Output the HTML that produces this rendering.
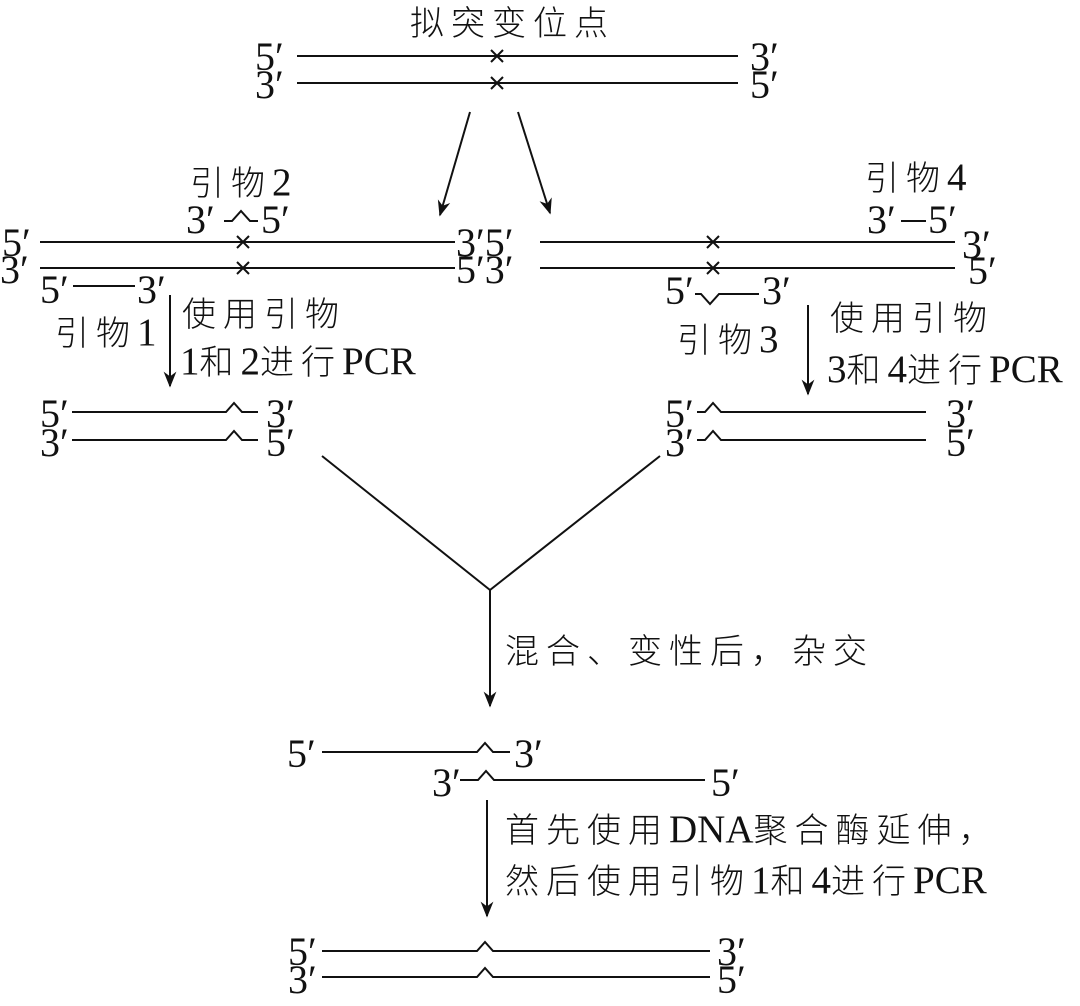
<!DOCTYPE html>
<html><head><meta charset="utf-8"><style>
body{margin:0;background:#fff}
svg{display:block}
text{font-family:"Liberation Serif","Noto Serif CJK SC",serif;font-size:40px;fill:#111}
.c{font-family:"Liberation Serif","Noto Sans CJK SC",sans-serif;font-size:34px;font-weight:300;letter-spacing:7px}
.c tspan.n{font-family:"Liberation Serif",serif;font-size:39px;letter-spacing:0}
</style></head><body>
<svg width="1080" height="1006" viewBox="0 0 1080 1006" xmlns="http://www.w3.org/2000/svg">
<defs><marker id="b" viewBox="0 0 10 10" refX="9" refY="5" markerWidth="16" markerHeight="16" orient="auto" markerUnits="userSpaceOnUse"><path d="M0,1 L10,5 L0,9 L3,5 z" fill="#111"/></marker></defs>
<g stroke="#111" stroke-width="2" fill="none">
<line x1="297" y1="56" x2="738" y2="56"/><line x1="297" y1="83" x2="738" y2="83"/>
<path d="M491,50l12,12M503,50l-12,12M491,77l12,12M503,77l-12,12"/>
<line x1="470" y1="112" x2="440" y2="215" marker-end="url(#b)"/>
<line x1="518" y1="112" x2="550" y2="213" marker-end="url(#b)"/>
<line x1="40" y1="242" x2="455" y2="242"/><line x1="40" y1="268" x2="455" y2="268"/>
<path d="M237,236l12,12M249,236l-12,12M237,262l12,12M249,262l-12,12"/>
<path d="M224,221h8l9,-10l9,10h8"/>
<line x1="73" y1="286" x2="135" y2="286"/>
<line x1="170" y1="295" x2="170" y2="386" marker-end="url(#b)"/>
<path d="M72,412h154l8,-9l8,9h16M72,440h154l8,-9l8,9h16"/>
<line x1="540" y1="242" x2="955" y2="242"/><line x1="540" y1="268" x2="955" y2="268"/>
<path d="M707,236l12,12M719,236l-12,12M707,262l12,12M719,262l-12,12"/>
<path d="M695,294h6l9,10l9,-10h40"/>
<line x1="901" y1="221" x2="926" y2="221"/>
<line x1="808" y1="305" x2="808" y2="394" marker-end="url(#b)"/>
<path d="M697,412h8l8,-9l8,9h205M697,440h8l8,-9l8,9h205"/>
<path d="M322,456L490,590L660,456"/>
<line x1="490" y1="590" x2="490" y2="706" marker-end="url(#b)"/>
<path d="M322,752h155l8,-9l8,9h17"/>
<path d="M460,780h18l8,-9l8,9h211"/>
<line x1="487" y1="800" x2="487" y2="916" marker-end="url(#b)"/>
<path d="M322,951h155l8,-9l8,9h217M322,977h155l8,-9l8,9h217"/>
</g>
<text class="c" x="410" y="35">拟突变位点</text>
<text x="255" y="70">5′</text><text x="255" y="98">3′</text>
<text x="750" y="70">3′</text><text x="750" y="98">5′</text>
<text class="c" x="190" y="195">引物<tspan class="n">2</tspan></text>
<text x="186" y="233">3′</text><text x="261" y="233">5′</text>
<text x="2" y="256">5′</text><text x="0" y="283">3′</text>
<text x="456" y="256">3′5′</text><text x="456" y="283">5′3′</text>
<text x="40" y="303">5′</text><text x="137" y="303">3′</text>
<text class="c" x="55" y="345">引物<tspan class="n">1</tspan></text>
<text class="c" x="182" y="326">使用引物</text>
<text class="c" x="180" y="374"><tspan class="n">1</tspan>和<tspan class="n">2</tspan>进行<tspan class="n">PCR</tspan></text>
<text x="40" y="427">5′</text><text x="40" y="456">3′</text>
<text x="266" y="427">3′</text><text x="266" y="456">5′</text>
<text class="c" x="865" y="190">引物<tspan class="n">4</tspan></text>
<text x="867" y="233">3′</text><text x="928" y="233">5′</text>
<text x="962" y="258">3′</text><text x="968" y="284">5′</text>
<text x="665" y="304">5′</text><text x="762" y="304">3′</text>
<text class="c" x="677" y="352">引物<tspan class="n">3</tspan></text>
<text class="c" x="830" y="330">使用引物</text>
<text class="c" x="827" y="382"><tspan class="n">3</tspan>和<tspan class="n">4</tspan>进行<tspan class="n">PCR</tspan></text>
<text x="665" y="427">5′</text><text x="665" y="456">3′</text>
<text x="946" y="427">3′</text><text x="946" y="456">5′</text>
<text class="c" x="505" y="663">混合、变性后，杂交</text>
<text x="287" y="767">5′</text><text x="514" y="767">3′</text>
<text x="432" y="796">3′</text><text x="711" y="796">5′</text>
<text class="c" x="505" y="842">首先使用<tspan class="n">DNA</tspan>聚合酶延伸，</text>
<text class="c" x="505" y="893">然后使用引物<tspan class="n">1</tspan>和<tspan class="n">4</tspan>进行<tspan class="n">PCR</tspan></text>
<text x="288" y="965">5′</text><text x="288" y="993">3′</text>
<text x="717" y="965">3′</text><text x="717" y="993">5′</text>
</svg>
</body></html>
